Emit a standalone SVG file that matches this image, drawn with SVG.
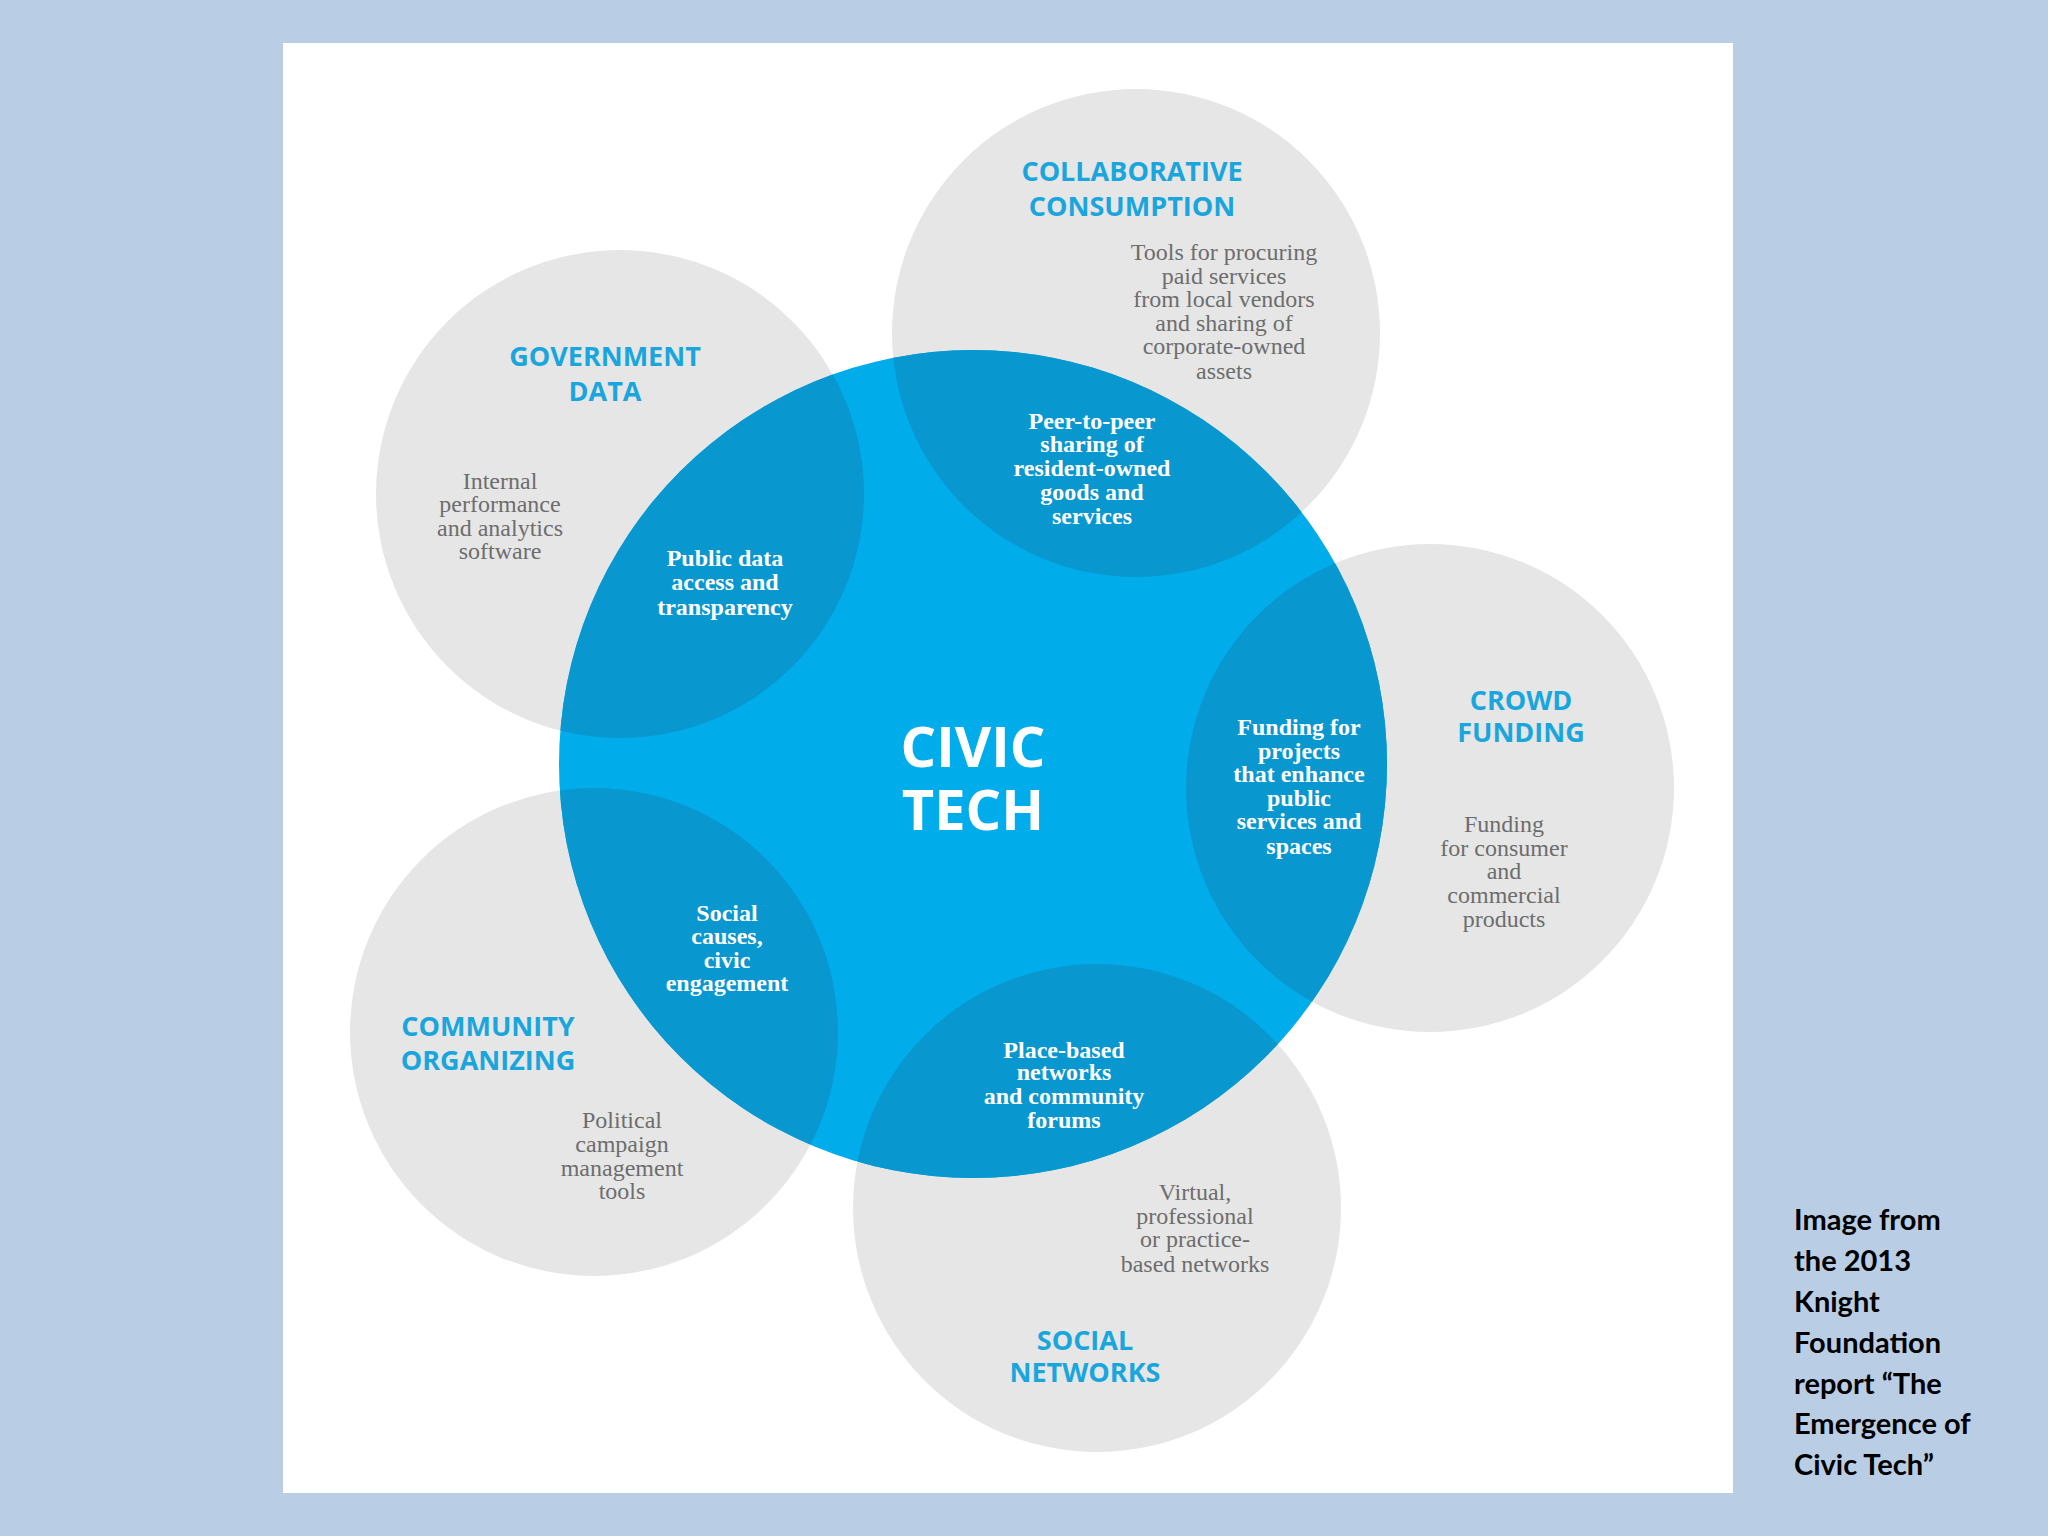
<svg xmlns="http://www.w3.org/2000/svg" width="2048" height="1536" viewBox="0 0 2048 1536">
<style>
.t{font-family:"Open Sans","Liberation Sans",sans-serif;font-weight:700;font-size:27px;fill:#1aa6dc;text-anchor:middle;dominant-baseline:central}
.g{font-family:"Liberation Serif",serif;font-size:24px;fill:#6d6d6d;text-anchor:middle;dominant-baseline:central}
.w{font-family:"Liberation Serif",serif;font-weight:700;font-size:24px;fill:#fff;text-anchor:middle;dominant-baseline:central}
.c{font-family:"Open Sans","Liberation Sans",sans-serif;font-weight:700;font-size:56px;fill:#fff;text-anchor:middle;dominant-baseline:central}
.s{font-family:Lato,"Liberation Sans",sans-serif;font-weight:700;font-size:29px;fill:#000}
.gc{fill:#e6e6e6}
.ov{fill:#0997cf}
</style>
<defs>
<clipPath id="big"><circle cx="973" cy="764" r="414"/></clipPath>
</defs>
<rect width="2048" height="1536" fill="#b9cde5"/>
<rect x="283" y="43" width="1450" height="1450" fill="#fff"/>
<g id="grey-circles">
<circle class="gc" cx="1136" cy="333" r="244"/>
<circle class="gc" cx="620" cy="494" r="244"/>
<circle class="gc" cx="1430" cy="788" r="244"/>
<circle class="gc" cx="594" cy="1032" r="244"/>
<circle class="gc" cx="1097" cy="1208" r="244"/>
</g>
<g id="civic-tech">
<circle cx="973" cy="764" r="414" fill="#00acea"/>
<g clip-path="url(#big)">
<circle class="ov" cx="1136" cy="333" r="244"/>
<circle class="ov" cx="620" cy="494" r="244"/>
<circle class="ov" cx="1430" cy="788" r="244"/>
<circle class="ov" cx="594" cy="1032" r="244"/>
<circle class="ov" cx="1097" cy="1208" r="244"/>
</g>
<text class="c" x="973" y="745">CIVIC</text>
<text class="c" x="973" y="808">TECH</text>
</g>
<g id="collaborative">
<text class="t" x="1132" y="170">COLLABORATIVE</text>
<text class="t" x="1132" y="205">CONSUMPTION</text>
<text class="g" x="1224" y="252">Tools for procuring</text>
<text class="g" x="1224" y="276">paid services</text>
<text class="g" x="1224" y="299">from local vendors</text>
<text class="g" x="1224" y="323">and sharing of</text>
<text class="g" x="1224" y="346">corporate-owned</text>
<text class="g" x="1224" y="371">assets</text>
<text class="w" x="1092" y="421">Peer-to-peer</text>
<text class="w" x="1092" y="444">sharing of</text>
<text class="w" x="1092" y="468">resident-owned</text>
<text class="w" x="1092" y="492">goods and</text>
<text class="w" x="1092" y="516">services</text>
</g>
<g id="government">
<text class="t" x="605" y="355">GOVERNMENT</text>
<text class="t" x="605" y="390">DATA</text>
<text class="g" x="500" y="481">Internal</text>
<text class="g" x="500" y="504">performance</text>
<text class="g" x="500" y="528">and analytics</text>
<text class="g" x="500" y="551">software</text>
<text class="w" x="725" y="558">Public data</text>
<text class="w" x="725" y="582">access and</text>
<text class="w" x="725" y="607">transparency</text>
</g>
<g id="crowd">
<text class="t" x="1521" y="699">CROWD</text>
<text class="t" x="1521" y="731">FUNDING</text>
<text class="g" x="1504" y="824">Funding</text>
<text class="g" x="1504" y="848">for consumer</text>
<text class="g" x="1504" y="871">and</text>
<text class="g" x="1504" y="895">commercial</text>
<text class="g" x="1504" y="919">products</text>
<text class="w" x="1299" y="727">Funding for</text>
<text class="w" x="1299" y="751">projects</text>
<text class="w" x="1299" y="774">that enhance</text>
<text class="w" x="1299" y="798">public</text>
<text class="w" x="1299" y="821">services and</text>
<text class="w" x="1299" y="846">spaces</text>
</g>
<g id="community">
<text class="t" x="488" y="1025">COMMUNITY</text>
<text class="t" x="488" y="1059">ORGANIZING</text>
<text class="g" x="622" y="1120">Political</text>
<text class="g" x="622" y="1144">campaign</text>
<text class="g" x="622" y="1168">management</text>
<text class="g" x="622" y="1191">tools</text>
<text class="w" x="727" y="913">Social</text>
<text class="w" x="727" y="936">causes,</text>
<text class="w" x="727" y="960">civic</text>
<text class="w" x="727" y="983">engagement</text>
</g>
<g id="social">
<text class="t" x="1085" y="1339">SOCIAL</text>
<text class="t" x="1085" y="1371">NETWORKS</text>
<text class="g" x="1195" y="1192">Virtual,</text>
<text class="g" x="1195" y="1216">professional</text>
<text class="g" x="1195" y="1239">or practice-</text>
<text class="g" x="1195" y="1264">based networks</text>
<text class="w" x="1064" y="1050">Place-based</text>
<text class="w" x="1064" y="1072">networks</text>
<text class="w" x="1064" y="1096">and community</text>
<text class="w" x="1064" y="1120">forums</text>
</g>
<g id="connectors"/>
<g id="caption">
<text class="s" x="1794" y="1230">Image from</text>
<text class="s" x="1794" y="1271">the 2013</text>
<text class="s" x="1794" y="1312">Knight</text>
<text class="s" x="1794" y="1353">Foundation</text>
<text class="s" x="1794" y="1394">report “The</text>
<text class="s" x="1794" y="1434">Emergence of</text>
<text class="s" x="1794" y="1475">Civic Tech”</text>
</g>
</svg>
